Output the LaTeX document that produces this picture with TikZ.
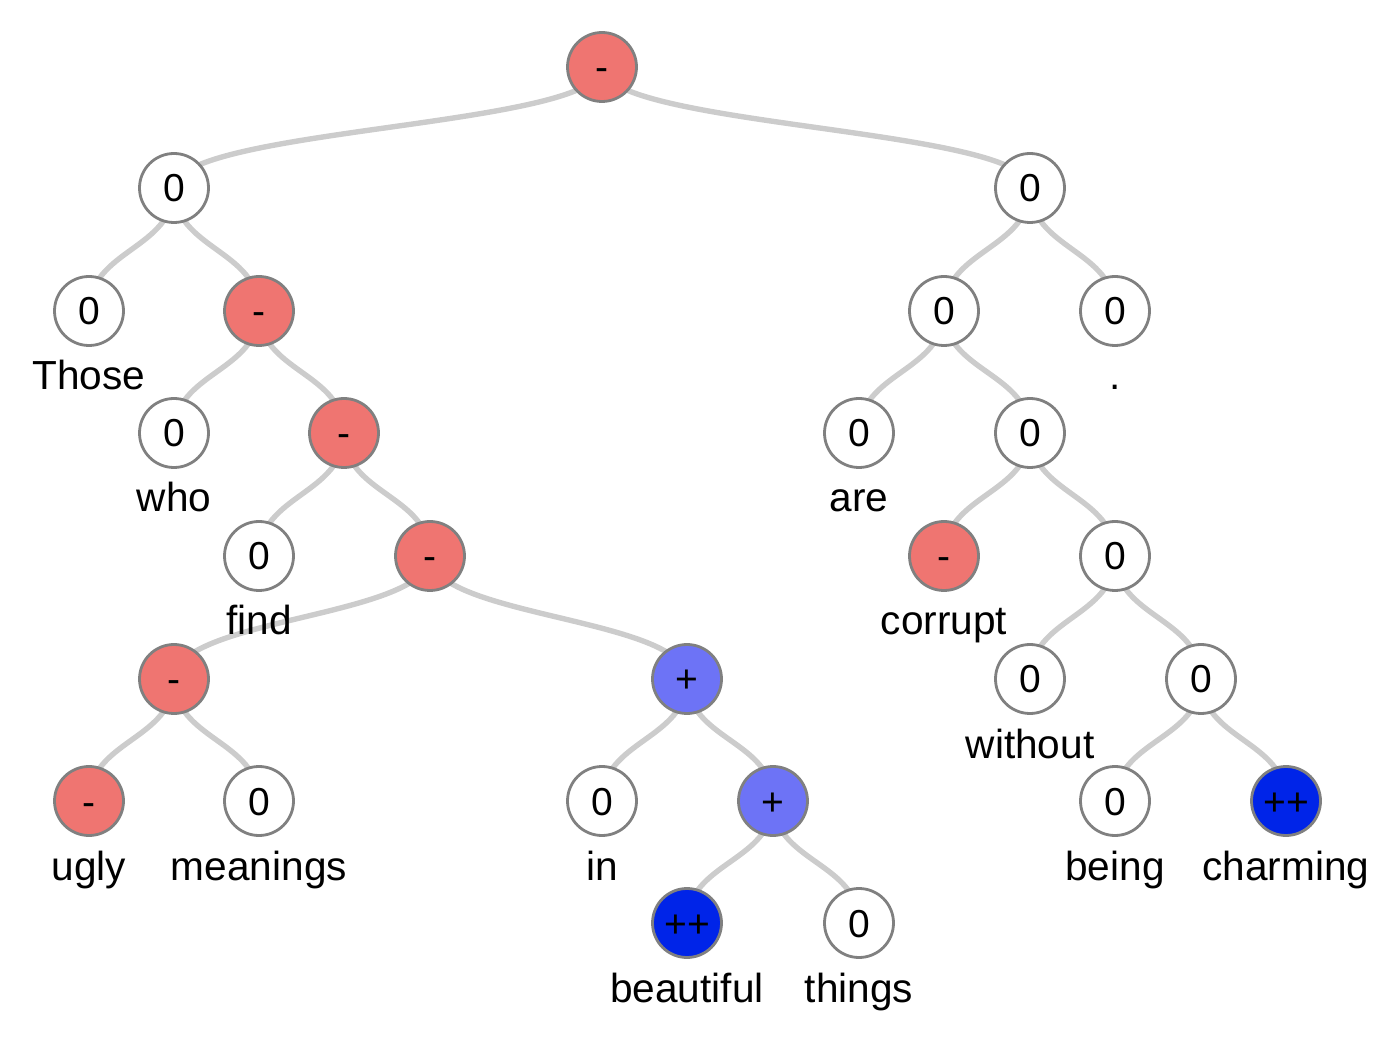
\documentclass[tikz,border=0pt]{standalone}
\usepackage{fontspec}
\setmainfont{Liberation Sans}
\usetikzlibrary{calc,backgrounds}
\definecolor{negred}{HTML}{EF7571}
\definecolor{posblue}{HTML}{6D73F6}
\definecolor{vposblue}{HTML}{0024E8}
\definecolor{linkgray}{HTML}{CCCCCC}

\begin{document}
\begin{tikzpicture}[x=0.5pt,y=-0.5pt,
    sent/.style={circle,draw=gray,line width=1.4pt,minimum size=34.5pt,
      inner sep=0pt,fill=#1,font=\fontsize{19.5}{22}\selectfont,
      text height=14pt,text depth=0pt},
    link/.style={draw=linkgray,line width=2.7pt},
    word/.style={anchor=base,inner sep=0pt,font=\fontsize{20.3}{24}\selectfont}]
  \useasboundingbox (0,0) rectangle (1398,1042);
  \foreach \nm/\x/\y/\val/\col in {
      r/602/67/-/negred,
      a/174/188/0/white, b/1030/188/0/white,
      a1/89/311/0/white, a2/259/311/-/negred,
      a21/174/433/0/white, a22/344/433/-/negred,
      a221/259/556/0/white, a222/430/556/-/negred,
      c1/174/679/-/negred, c2/687/679/+/posblue,
      c11/89/801/-/negred, c12/259/801/0/white,
      c21/602/801/0/white, c22/773/801/+/posblue,
      c221/687/923/++/vposblue, c222/859/923/0/white,
      b1/944/311/0/white, b2/1115/311/0/white,
      b11/859/433/0/white, b12/1030/433/0/white,
      d1/944/556/-/negred, d2/1115/556/0/white,
      d21/1030/679/0/white, d22/1201/679/0/white,
      d221/1115/801/0/white, d222/1286/801/++/vposblue} {
    \node[sent=\col] (\nm) at (\x,\y) {\val};
  }
  \begin{scope}[on background layer]
    \foreach \p/\c in {r/a, r/b, a/a1, a/a2, a2/a21, a2/a22, a22/a221,
        a22/a222, a222/c1, a222/c2, c1/c11, c1/c12, c2/c21, c2/c22,
        c22/c221, c22/c222, b/b1, b/b2, b1/b11, b1/b12, b12/d1, b12/d2,
        d2/d21, d2/d22, d22/d221, d22/d222} {
      \coordinate (m) at ($(\p.center)!0.5!(\c.center)$);
      \draw[link] (\p.center) .. controls (\p.center |- m) and (\c.center |- m) .. (\c.center);
    }
  \end{scope}
  \foreach \nm/\w in {a1/Those, a21/who, a221/find, c11/ugly, c12/meanings,
      c21/in, c221/beautiful, c222/things, b2/., b11/are, d1/corrupt,
      d21/without, d221/being, d222/charming} {
    \node[word] (w\nm) at ($(\nm.center)+(0,79)$) {\w};
  }
\end{tikzpicture}
\end{document}
